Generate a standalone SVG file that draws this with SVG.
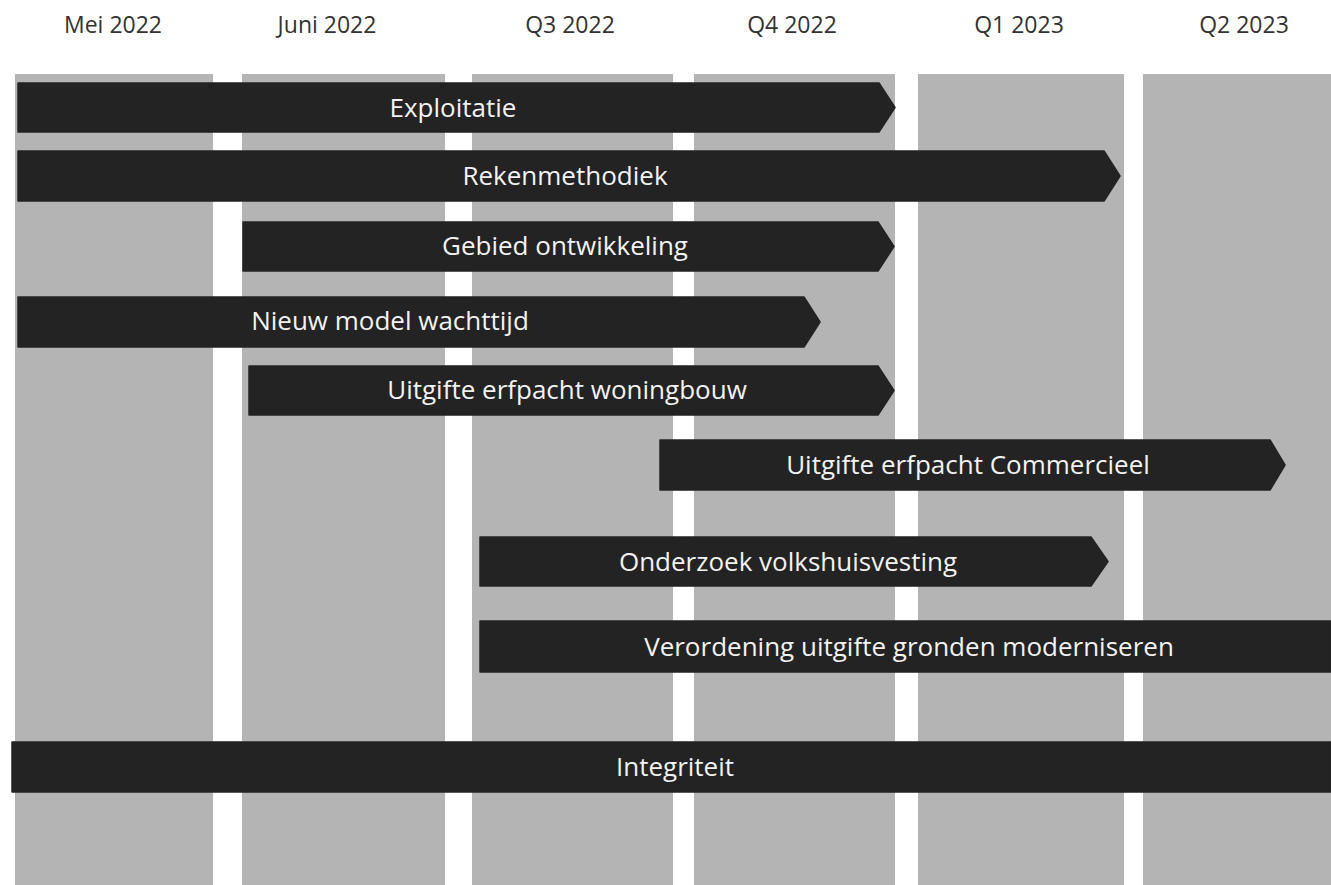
<svg xmlns="http://www.w3.org/2000/svg" width="1331" height="885" viewBox="0 0 1331 885">
  <style>
    .col { fill: #b4b4b4; }
    .bar { fill: #232323; stroke: #232323; stroke-width: 1.5; stroke-linejoin: round; }
    .hdr { font-family: "Open Sans", "Liberation Sans", sans-serif; font-size: 23px; fill: #333333; text-anchor: middle; }
    .lbl { font-family: "Open Sans", "Liberation Sans", sans-serif; font-size: 26px; fill: #f2f2f2; text-anchor: middle; }
  </style>
  <rect x="0" y="0" width="1331" height="885" fill="#ffffff"/>
  <g id="columns">
    <rect class="col" x="15" y="74" width="198" height="811"/>
    <rect class="col" x="242" y="74" width="203" height="811"/>
    <rect class="col" x="472" y="74" width="201" height="811"/>
    <rect class="col" x="694" y="74" width="201" height="811"/>
    <rect class="col" x="918" y="74" width="206" height="811"/>
    <rect class="col" x="1143" y="74" width="188" height="811"/>
  </g>
  <g id="headers">
    <text class="hdr" x="113" y="33">Mei 2022</text>
    <text class="hdr" x="327" y="33">Juni 2022</text>
    <text class="hdr" x="570" y="33">Q3 2022</text>
    <text class="hdr" x="792" y="33">Q4 2022</text>
    <text class="hdr" x="1019" y="33">Q1 2023</text>
    <text class="hdr" x="1244" y="33">Q2 2023</text>
  </g>
  <g id="bar-exploitatie">
    <path class="bar" d="M18,83 H879 L895,107.5 L879,132 H18 Z"/>
    <text class="lbl" x="453" y="117">Exploitatie</text>
  </g>
  <g id="bar-rekenmethodiek">
    <path class="bar" d="M18,151 H1104 L1120,176 L1104,201 H18 Z"/>
    <text class="lbl" x="565" y="185">Rekenmethodiek</text>
  </g>
  <g id="bar-gebied">
    <path class="bar" d="M243,222 H878 L894,246.5 L878,271 H243 Z"/>
    <text class="lbl" x="565" y="255">Gebied ontwikkeling</text>
  </g>
  <g id="bar-wachttijd">
    <path class="bar" d="M18,297 H804 L820,322 L804,347 H18 Z"/>
    <text class="lbl" x="390" y="330">Nieuw model wachttijd</text>
  </g>
  <g id="bar-woningbouw">
    <path class="bar" d="M249,366 H878 L894,390.5 L878,415 H249 Z"/>
    <text class="lbl" x="567" y="399">Uitgifte erfpacht woningbouw</text>
  </g>
  <g id="bar-commercieel">
    <path class="bar" d="M660,440 H1270 L1285,465 L1270,490 H660 Z"/>
    <text class="lbl" x="968" y="474">Uitgifte erfpacht Commercieel</text>
  </g>
  <g id="bar-volkshuisvesting">
    <path class="bar" d="M480,537 H1091 L1108,561.5 L1091,586 H480 Z"/>
    <text class="lbl" x="788" y="571">Onderzoek volkshuisvesting</text>
  </g>
  <g id="bar-verordening">
    <path class="bar" d="M480,621 H1331 V672 H480 Z"/>
    <text class="lbl" x="909" y="656">Verordening uitgifte gronden moderniseren</text>
  </g>
  <g id="bar-integriteit">
    <path class="bar" d="M12,742 H1331 V792 H12 Z"/>
    <text class="lbl" x="675" y="776">Integriteit</text>
  </g>
  <g id="connectors"/>
</svg>
